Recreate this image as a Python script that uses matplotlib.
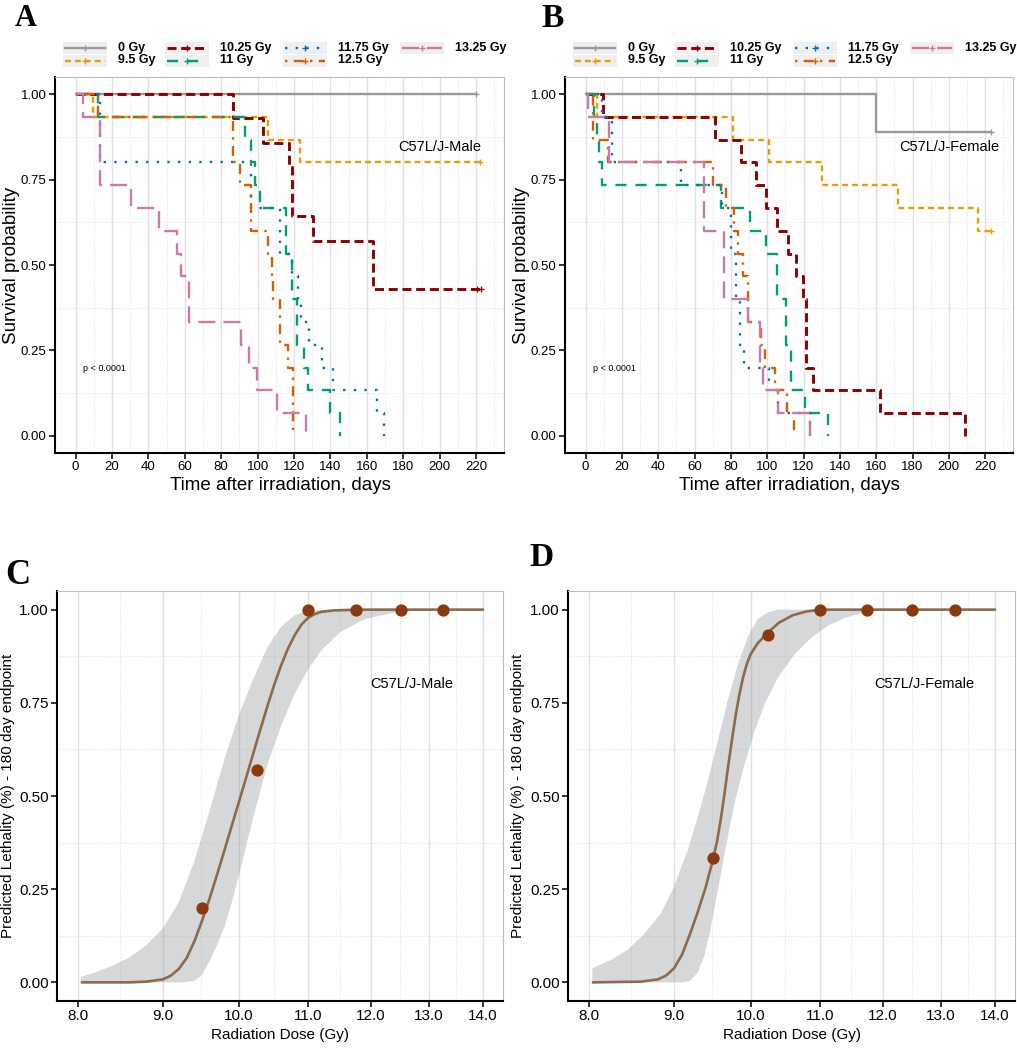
"""Curvas de supervivencia (Kaplan-Meier) y letalidad predicha, C57L/J."""

import matplotlib
matplotlib.use("Agg")
import matplotlib.pyplot as plt
import numpy as np
from matplotlib.patches import Rectangle
from matplotlib.ticker import FixedLocator, FuncFormatter, NullFormatter

W, H = 1017, 1050

# --- datos -----------------------------------------------------------------
group_labels = ["0 Gy", "9.5 Gy", "10.25 Gy", "11 Gy", "11.75 Gy", "12.5 Gy", "13.25 Gy"]

# Machos (panel A)
male_0_t = [0, 220]
male_0_s = [1.0, 1.0]
male_0_cens = [220]
male_95_t = [0, 9.7, 105.9, 123.0, 222]
male_95_s = [1.0, 0.933, 0.867, 0.8, 0.8]
male_95_cens = [222]
male_1025_t = [0, 86.6, 103.1, 117.2, 118.7, 130.2, 163.2, 222.5]
male_1025_s = [1.0, 0.929, 0.857, 0.786, 0.643, 0.571, 0.429, 0.429]
male_1025_cens = [220.5, 222.5]
male_11_t = [0, 12.4, 93.0, 96.3, 98.5, 101.3, 115.6, 118.7, 121.4, 125.6, 127.5, 139.8, 145.3]
male_11_s = [1.0, 0.933, 0.867, 0.8, 0.733, 0.667, 0.533, 0.4, 0.267, 0.2, 0.133, 0.067, 0.0]
male_11_cens = []
male_1175_t = [0, 13.4, 96.3, 112.3, 118.7, 122.3, 123.6, 128.0, 135.2, 141.6, 165.4, 169.5]
male_1175_s = [1.0, 0.8, 0.667, 0.533, 0.467, 0.4, 0.333, 0.267, 0.2, 0.133, 0.067, 0.0]
male_1175_cens = []
male_125_t = [0, 12.4, 86.6, 90.3, 96.3, 105.9, 107.7, 108.6, 112.3, 116.5, 119.6]
male_125_s = [1.0, 0.933, 0.8, 0.733, 0.6, 0.533, 0.467, 0.4, 0.267, 0.2, 0.0]
male_125_cens = []
male_1325_t = [0, 4.2, 13.4, 30.4, 45.8, 55.5, 58.0, 62.3, 90.6, 95.4, 99.5, 110.4, 126.6]
male_1325_s = [1.0, 0.933, 0.733, 0.667, 0.6, 0.533, 0.467, 0.333, 0.267, 0.2, 0.133, 0.067, 0.0]
male_1325_cens = []

# Hembras (panel B)
female_0_t = [0, 160.0, 223]
female_0_s = [1.0, 0.889, 0.889]
female_0_cens = [223]
female_95_t = [0, 6.4, 81.2, 101.0, 130.3, 171.9, 216.2, 223]
female_95_s = [1.0, 0.933, 0.867, 0.8, 0.733, 0.667, 0.6, 0.6]
female_95_cens = [223]
female_1025_t = [0, 9.7, 71.4, 85.7, 94.0, 99.5, 105.5, 111.4, 115.6, 119.6, 121.5, 125.1, 162.3, 208.8]
female_1025_s = [1.0, 0.933, 0.867, 0.8, 0.733, 0.667, 0.6, 0.533, 0.467, 0.4, 0.2, 0.133, 0.067, 0.0]
female_1025_cens = []
female_11_t = [0, 4.6, 6.4, 7.5, 9.2, 74.7, 90.3, 99.5, 105.5, 110.5, 113.2, 120.9, 133.4]
female_11_s = [1.0, 0.933, 0.867, 0.8, 0.733, 0.667, 0.6, 0.533, 0.4, 0.267, 0.133, 0.067, 0.0]
female_11_cens = []
female_1175_t = [0, 9.2, 14.3, 52.4, 75.1, 80.2, 83.0, 85.0, 87.2, 101.0, 106.0, 123.7]
female_1175_s = [1.0, 0.933, 0.8, 0.733, 0.667, 0.533, 0.4, 0.267, 0.2, 0.133, 0.067, 0.0]
female_1175_cens = []
female_125_t = [0, 4.2, 12.1, 70.0, 77.5, 81.5, 84.0, 86.7, 89.4, 96.4, 98.6, 104.4, 111.0, 114.7]
female_125_s = [1.0, 0.867, 0.8, 0.733, 0.667, 0.6, 0.533, 0.467, 0.333, 0.267, 0.2, 0.133, 0.067, 0.0]
female_125_cens = []
female_1325_t = [0, 1.5, 12.8, 65.1, 76.0, 89.4, 95.8, 97.5, 106.0, 123.3]
female_1325_s = [1.0, 0.933, 0.8, 0.6, 0.4, 0.333, 0.2, 0.133, 0.067, 0.0]
female_1325_cens = []

# Letalidad observada a 180 dias (paneles C y D)
obs_dose = [9.5, 10.25, 11.0, 11.75, 12.5, 13.25]
male_obs = [0.2, 0.571, 1.0, 1.0, 1.0, 1.0]
female_obs = [0.333, 0.933, 1.0, 1.0, 1.0, 1.0]

# Curva ajustada y banda de confianza
male_fit_dose = [8.05, 8.6, 8.8, 9.0, 9.1, 9.2, 9.3, 9.4, 9.5, 9.6, 9.7, 9.8, 9.9, 10.0,
                 10.1, 10.2, 10.3, 10.4, 10.5, 10.6, 10.7, 10.8, 10.9, 11.0, 11.1, 11.2,
                 11.4, 11.8, 14.0]
male_fit = [0.0, 0.0, 0.002, 0.008, 0.018, 0.036, 0.065, 0.11, 0.165, 0.225, 0.289, 0.355,
            0.421, 0.486, 0.551, 0.616, 0.68, 0.742, 0.8, 0.852, 0.896, 0.932, 0.96, 0.978,
            0.988, 0.994, 0.998, 1.0, 1.0]
male_hi_dose = [8.04, 8.2, 8.4, 8.6, 8.8, 9.0, 9.2, 9.4, 9.6, 9.8, 10.0, 10.2, 10.4, 10.6,
                10.8, 11.0, 11.3, 14.0]
male_hi = [0.015, 0.027, 0.045, 0.068, 0.1, 0.145, 0.215, 0.325, 0.46, 0.6, 0.72, 0.815,
           0.9, 0.955, 0.985, 0.997, 1.0, 1.0]
male_lo_dose = [8.04, 9.2, 9.3, 9.4, 9.5, 9.6, 9.7, 9.8, 9.9, 10.0, 10.2, 10.4, 10.6, 10.8,
                11.0, 11.2, 11.5, 11.9, 12.5, 13.1, 14.0]
male_lo = [0.0, 0.0, 0.001, 0.004, 0.02, 0.057, 0.1, 0.15, 0.215, 0.29, 0.445, 0.585, 0.69,
           0.775, 0.84, 0.89, 0.94, 0.975, 0.995, 1.0, 1.0]

female_fit_dose = [8.05, 8.6, 8.8, 8.9, 9.0, 9.1, 9.2, 9.3, 9.4, 9.5, 9.55, 9.6, 9.65, 9.7,
                   9.75, 9.8, 9.85, 9.9, 9.95, 10.0, 10.1, 10.25, 10.4, 10.6, 10.8, 11.0, 14.0]
female_fit = [0.0, 0.002, 0.008, 0.018, 0.038, 0.075, 0.13, 0.19, 0.255, 0.333, 0.38, 0.44,
              0.51, 0.585, 0.655, 0.72, 0.775, 0.82, 0.855, 0.88, 0.91, 0.94, 0.965, 0.985,
              0.995, 1.0, 1.0]
female_hi_dose = [8.04, 8.24, 8.44, 8.63, 8.84, 9.0, 9.17, 9.3, 9.43, 9.56, 9.69, 9.83,
                  9.97, 10.1, 10.25, 10.39, 14.0]
female_hi = [0.038, 0.059, 0.087, 0.128, 0.186, 0.257, 0.355, 0.444, 0.542, 0.649, 0.756,
             0.855, 0.93, 0.975, 0.993, 1.0, 1.0]
female_lo_dose = [8.04, 9.12, 9.2, 9.3, 9.38, 9.45, 9.52, 9.65, 9.78, 9.92, 10.06, 10.2,
                  10.39, 10.63, 10.88, 11.13, 11.39, 11.71, 12.04, 14.0]
female_lo = [0.0, 0.0, 0.004, 0.027, 0.07, 0.13, 0.203, 0.346, 0.48, 0.587, 0.676, 0.748,
             0.819, 0.881, 0.926, 0.957, 0.978, 0.993, 0.999, 1.0]

dose_ticks = [8.0, 9.0, 10.0, 11.0, 12.0, 13.0, 14.0]

# --- estilos -----------------------------------------------------------------
colors = ["#999999", "#E69F00", "#8B0000", "#009E73", "#0072B2", "#D55E00", "#CC79A7"]
styles = ["-", (0, (2.5, 1.7)), (0, (3.1, 1.6)), (0, (4.7, 3.8)), (0, (1, 3.5)),
          (0, (1, 2.7, 4.2, 2.7)), (0, (7.2, 3.4))]
widths = [1.7, 1.7, 2.1, 1.7, 1.7, 1.7, 1.7]

plt.rcParams["font.family"] = ["Liberation Sans", "DejaVu Sans"]


def px_rect(left, top, right, bottom):
    """Convierte un rectangulo en pixeles a coordenadas de figura."""
    return [left / W, 1 - bottom / H, (right - left) / W, (bottom - top) / H]


def style_axes(ax, labelsize):
    """Aplica el aspecto tipo ggplot (bordes, ticks y rejilla)."""
    for side in ("top", "right"):
        ax.spines[side].set_color("#bdbdbd")
        ax.spines[side].set_linewidth(0.8)
    for side in ("left", "bottom"):
        ax.spines[side].set_color("black")
        ax.spines[side].set_linewidth(1.5)
    ax.tick_params(which="major", direction="out", length=4.5, width=1.1,
                   labelsize=labelsize, pad=1.5, colors="black")
    ax.tick_params(which="minor", length=0)
    ax.grid(which="major", axis="x", color="#e0e0e0", lw=1.0)
    ax.grid(which="minor", axis="both", color="#d6d6d6", lw=0.6, ls=(0, (1, 2)))
    ax.set_axisbelow(True)
    ax.set_ylim(-0.05, 1.05)
    ax.yaxis.set_major_locator(FixedLocator([0, 0.25, 0.5, 0.75, 1.0]))
    ax.yaxis.set_minor_locator(FixedLocator([0.125, 0.375, 0.625, 0.875]))
    ax.yaxis.set_major_formatter(FuncFormatter(lambda v, _: f"{v:.2f}"))


def draw_km(ax, groups, strain):
    """Dibuja las curvas de Kaplan-Meier de un sexo."""
    style_axes(ax, 9.5)
    for (t, s, cens), c, ls, lw in zip(groups, colors, styles, widths):
        ax.step(t, s, where="post", color=c, ls=ls, lw=lw)
        if cens:
            ax.plot(cens, [s[-1]] * len(cens), ls="none", marker="+", ms=4,
                    mew=1.0, color=c)
    ax.set_xlim(-11.3, 235.3)
    ax.xaxis.set_major_locator(FixedLocator(np.arange(0, 221, 20)))
    ax.xaxis.set_minor_locator(FixedLocator(np.arange(10, 231, 20)))
    ax.text(4, 0.196, "p < 0.0001", fontsize=6.5, va="center", ha="left")
    ax.text(200, 0.845, strain, fontsize=10.5, va="center", ha="center")


def draw_fit(ax, fit_x, fit_y, hi_x, hi_y, lo_x, lo_y, obs, strain):
    """Dibuja la curva de letalidad predicha con su banda."""
    style_axes(ax, 11)
    ax.set_xscale("log")
    ax.fill(np.concatenate([hi_x, lo_x[::-1]]), np.concatenate([hi_y, lo_y[::-1]]),
            color="#9a9ca0", alpha=0.4, lw=0)
    ax.plot(fit_x, fit_y, color="#8C6B4C", lw=1.9, zorder=3)
    ax.scatter(obs_dose, obs, s=78, color="#8B3A0F", zorder=4, lw=0)
    ax.set_xlim(7.775, 14.40)
    ax.xaxis.set_major_locator(FixedLocator(dose_ticks))
    ax.xaxis.set_major_formatter(FuncFormatter(lambda v, _: f"{v:.1f}"))
    mids = np.sqrt(np.array(dose_ticks[:-1]) * np.array(dose_ticks[1:]))
    ax.xaxis.set_minor_locator(FixedLocator(mids))
    ax.xaxis.set_minor_formatter(NullFormatter())
    ax.text(12.7, 0.80, strain, fontsize=10.5, va="center", ha="center")


def draw_legend(ov, x0):
    """Leyenda de dosis dibujada a mano (fondo gris en cada clave)."""
    col_x = [1, 103, 221, 338]
    row_y = [47.5, 60.5]
    for i, label in enumerate(group_labels):
        kx = x0 + col_x[i // 2]
        ky = row_y[i % 2]
        ov.add_patch(Rectangle((kx, ky - 6), 44, 12, facecolor="#efefef",
                               edgecolor="none"))
        ov.plot([kx + 2, kx + 42], [ky, ky], color=colors[i], ls=styles[i], lw=widths[i])
        ov.plot([kx + 22], [ky], marker="+", ms=4, mew=1.0, color=colors[i])
        ov.text(kx + 55, ky, label, fontsize=9, fontweight="bold", va="center",
                ha="left")


fig = plt.figure(figsize=(W / 100, H / 100), dpi=100)

ax_a = fig.add_axes(px_rect(55, 77, 504, 453))
ax_b = fig.add_axes(px_rect(565, 77, 1013, 453))
ax_c = fig.add_axes(px_rect(57, 591, 503, 1001))
ax_d = fig.add_axes(px_rect(568, 591, 1015, 1001))

male_groups = [
    (male_0_t, male_0_s, male_0_cens), (male_95_t, male_95_s, male_95_cens),
    (male_1025_t, male_1025_s, male_1025_cens), (male_11_t, male_11_s, male_11_cens),
    (male_1175_t, male_1175_s, male_1175_cens), (male_125_t, male_125_s, male_125_cens),
    (male_1325_t, male_1325_s, male_1325_cens),
]
female_groups = [
    (female_0_t, female_0_s, female_0_cens), (female_95_t, female_95_s, female_95_cens),
    (female_1025_t, female_1025_s, female_1025_cens),
    (female_11_t, female_11_s, female_11_cens),
    (female_1175_t, female_1175_s, female_1175_cens),
    (female_125_t, female_125_s, female_125_cens),
    (female_1325_t, female_1325_s, female_1325_cens),
]

draw_km(ax_a, male_groups, "C57L/J-Male")
draw_km(ax_b, female_groups, "C57L/J-Female")
draw_fit(ax_c, male_fit_dose, male_fit, np.array(male_hi_dose), np.array(male_hi),
         np.array(male_lo_dose), np.array(male_lo), male_obs, "C57L/J-Male")
draw_fit(ax_d, female_fit_dose, female_fit, np.array(female_hi_dose), np.array(female_hi),
         np.array(female_lo_dose), np.array(female_lo), female_obs, "C57L/J-Female")

# capa superior en pixeles para leyendas, titulos de ejes y letras
ov = fig.add_axes([0, 0, 1, 1], zorder=10)
ov.set_xlim(0, W)
ov.set_ylim(H, 0)
ov.axis("off")

draw_legend(ov, 62)
draw_legend(ov, 572)

for x in (280, 789):
    ov.text(x, 486, "Time after irradiation, days", fontsize=13.5, ha="center", va="center")
for x in (12, 522):
    ov.text(x, 265, "Survival probability", fontsize=13.5, rotation=90,
            ha="center", va="center")
for x in (280, 792):
    ov.text(x, 1035, "Radiation Dose (Gy)", fontsize=11, ha="center", va="center")
for x in (8, 518):
    ov.text(x, 796, "Predicted Lethality (%) - 180 day endpoint", fontsize=11,
            rotation=90, ha="center", va="center")

for letter, x, y, size in (("A", 25.5, 26, 22), ("B", 552.5, 27, 24),
                           ("C", 17.5, 584, 25), ("D", 541, 566, 24)):
    ov.text(x, y, letter, fontsize=size, fontweight="bold", family="Liberation Serif",
            ha="center", va="baseline")

fig.savefig("out.png", dpi=100)
